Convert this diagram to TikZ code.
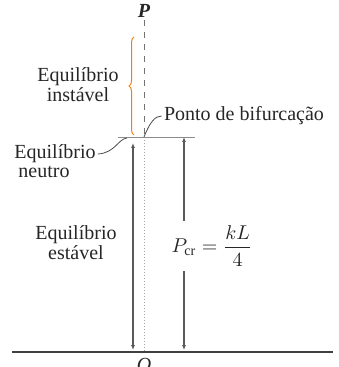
\documentclass[tikz,border=0pt]{standalone}
\usepackage{amsmath}
\usepackage{fontspec}
\setmainfont{Liberation Serif}
\usetikzlibrary{decorations.pathreplacing,arrows.meta}

\begin{document}
\begin{tikzpicture}[x=0.5pt,y=-0.5pt,
    lbl/.style={font=\fontsize{10}{10}\selectfont,align=center,inner sep=1pt,text=black!85},
    leader/.style={black!70,line width=0.4pt},
    dim/.style={black!65,line width=0.6pt,{Latex[length=2.5pt,width=2pt]}-{Latex[length=2.5pt,width=2pt]}}]
    \useasboundingbox (0,0) rectangle (338,367);
    % eixo e chao
    \coordinate (top) at (144,20);
    \coordinate (bif) at (144,137);
    \coordinate (orig) at (144,352);
    \draw[black!55,dashed,line width=0.4pt] (top) -- (bif);
    \draw[black!35,densely dotted,line width=0.5pt] (bif) -- (orig);
    \draw[black!75,line width=0.8pt] (12,352) -- (333,352);
    \draw[black!45,line width=0.4pt] (118,137) -- (195,137);
    \node[lbl] (P) at (144,11) {\textbf{\textit{P}}};
    \node[lbl,anchor=north] (O) at (144,356) {\textit{O}};
    % faixas
    \draw[decorate,decoration={brace,amplitude=2.5pt},orange!80!brown,line width=0.5pt] (134,135) -- (134,37);
    \coordinate (estA) at (133,143);
    \coordinate (estB) at (133,350);
    \draw[dim] (estA) -- (estB);
    \coordinate (crA) at (184,137);
    \coordinate (crB) at (184,350);
    \draw[dim] (crA) -- (crB);
    \node[lbl,fill=white,inner sep=2pt] (Pcr) at (212,246) {$P_{\mathrm{cr}} = \dfrac{kL}{4}$};
    % textos
    \node[lbl] (instavel) at (78,85) {Equilíbrio\\instável};
    \node[lbl] (estavel) at (76,243) {Equilíbrio\\estável};
    \node[lbl] (neutroA) at (55,154) {Equilíbrio};
    \node[lbl,anchor=west] (neutroB) at (16,172) {neutro};
    \node[lbl] (ponto) at (244,116) {Ponto de bifurcação};
    \coordinate (nb) at (127,138);
    \draw[leader] (neutroA.east) .. controls (115,153) and (118,139) .. (nb);
    \draw[leader] (bif) .. controls (150,122) and (155,116) .. (ponto.west);
\end{tikzpicture}
\end{document}
